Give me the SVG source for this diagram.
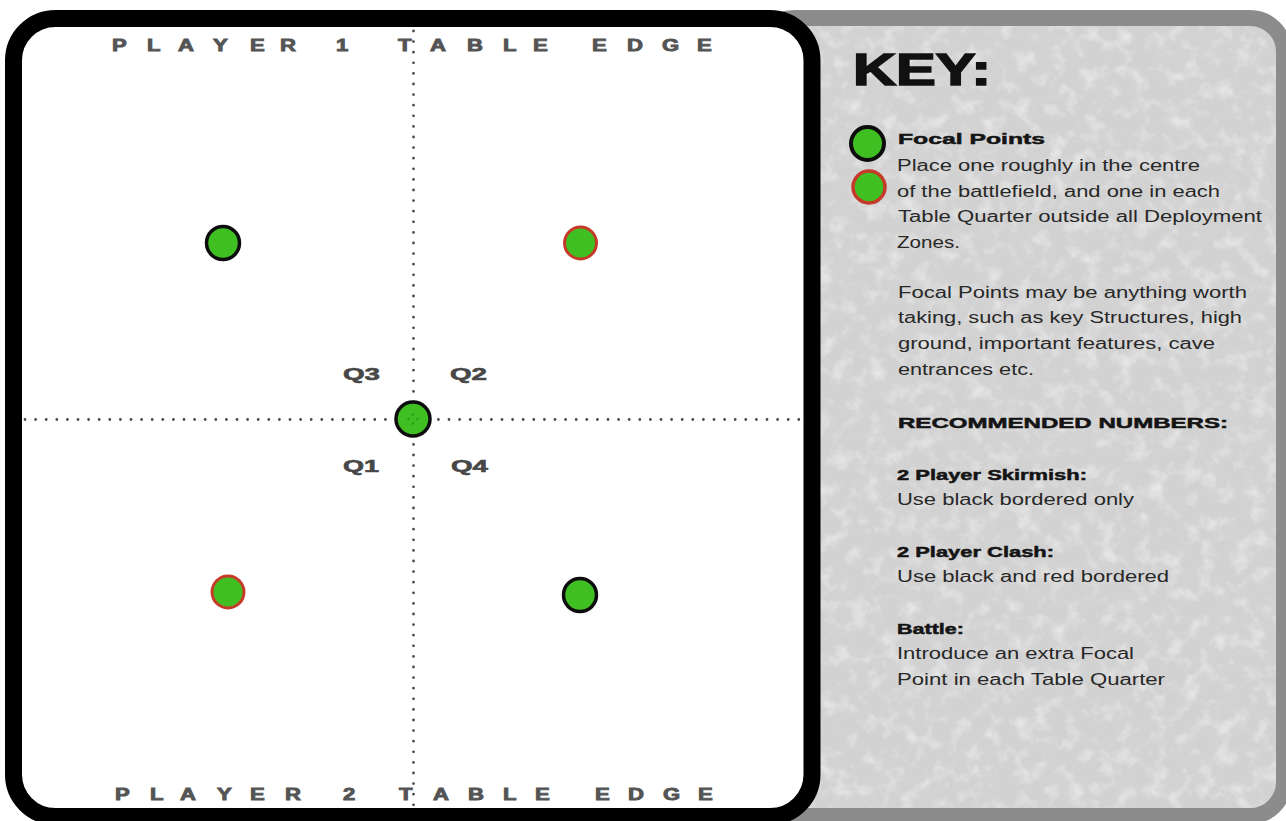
<svg xmlns="http://www.w3.org/2000/svg" width="1286" height="821" viewBox="0 0 1286 821">
  <defs>
    <filter id="speckle" x="0" y="0" width="100%" height="100%">
      <feTurbulence type="fractalNoise" baseFrequency="0.06" numOctaves="4" seed="7" result="n"/>
      <feColorMatrix in="n" type="matrix" values="0 0 0 0 1  0 0 0 0 1  0 0 0 0 1  2.6 0 0 0 -1.25"/>
      <feComposite in2="SourceGraphic" operator="in"/>
    </filter>
    <style>
      .edge { font-family: "Liberation Sans", Arial, sans-serif; font-weight: bold; font-size: 17px; fill: #545454; stroke: #545454; stroke-width: 0.9px; }
      .q { font-family: "Liberation Sans", Arial, sans-serif; font-weight: bold; font-size: 17px; fill: #474747; stroke: #474747; stroke-width: 0.6px; }
      .kt { font-family: "Liberation Sans", Arial, sans-serif; font-size: 16px; fill: #282828; }
      .kb { font-family: "Liberation Sans", Arial, sans-serif; font-weight: bold; font-size: 15.5px; fill: #141414; stroke: #141414; stroke-width: 0.5px; }
      .title { font-family: "Liberation Sans", Arial, sans-serif; font-weight: bold; font-size: 44px; fill: #111; stroke: #111; stroke-width: 1.6px; }
      .fp { fill: #3fbf22; }
      .blk { stroke: #0d0d0d; stroke-width: 3.5; }
      .red { stroke: #c63a2a; stroke-width: 3; }
      .dots { stroke: #4a4a4a; stroke-width: 2.8; stroke-linecap: round; stroke-dasharray: 0 10.6; fill: none; }
    </style>
  </defs>

  <rect x="0" y="0" width="1286" height="821" fill="#ffffff"/>

  <!-- Key panel -->
  <g id="key-panel">
    <rect x="760" y="18" width="524" height="798" rx="34" fill="#d2d2d2" stroke="#8c8c8c" stroke-width="16"/>
    <rect x="768" y="26" width="508" height="782" rx="26" fill="#ffffff" filter="url(#speckle)" opacity="0.45"/>
  </g>

  <!-- Board -->
  <g id="board">
    <rect x="13.5" y="18.5" width="798.5" height="798" rx="42" fill="#ffffff" stroke="#000000" stroke-width="17"/>
  </g>

  <!-- Connectors: dotted quarter lines -->
  <g id="connectors">
    <line class="dots" x1="413.5" y1="31" x2="413.5" y2="806"/>
    <line class="dots" x1="25" y1="419.5" x2="800" y2="419.5"/>
  </g>

  <!-- Table edge labels -->
  <g id="label-player1">
    <text class="edge" transform="scale(1.3 1)" y="51" x="86.2 113.1 136.9 163.8 192.3 215.4 258.5 306.2 330.8 359.2 386.9 410 455.4 482.3 509.2 536.2">PLAYER1TABLEEDGE</text>
  </g>
  <g id="label-player2">
    <text class="edge" transform="scale(1.3 1)" y="800" x="88.5 115.4 138.5 166.9 192.3 219.2 263.8 306.9 333.1 360 386.9 411.5 457.7 483.1 510 536.9">PLAYER2TABLEEDGE</text>
  </g>

  <!-- Quarter labels -->
  <g id="quarters">
    <text class="q" x="343" y="380" textLength="37" lengthAdjust="spacingAndGlyphs">Q3</text>
    <text class="q" x="450" y="380" textLength="37" lengthAdjust="spacingAndGlyphs">Q2</text>
    <text class="q" x="343" y="472" textLength="36" lengthAdjust="spacingAndGlyphs">Q1</text>
    <text class="q" x="451" y="472" textLength="37" lengthAdjust="spacingAndGlyphs">Q4</text>
  </g>

  <!-- Focal points -->
  <g id="fp-q3"><circle class="fp blk" cx="223" cy="243" r="16.5"/></g>
  <g id="fp-q2"><circle class="fp red" cx="580.5" cy="243" r="16"/></g>
  <g id="fp-q1"><circle class="fp red" cx="228" cy="592" r="16"/></g>
  <g id="fp-q4"><circle class="fp blk" cx="580" cy="595" r="16.5"/></g>
  <g id="fp-centre">
    <circle class="fp blk" cx="413" cy="419" r="17"/>
    <g fill="#2f9a1b">
      <circle cx="413" cy="414.5" r="1.3"/>
      <circle cx="413" cy="423.5" r="1.3"/>
      <circle cx="408.5" cy="419" r="1.3"/>
      <circle cx="417.5" cy="419" r="1.3"/>
    </g>
  </g>

  <!-- Key -->
  <g id="key-title">
    <text class="title" x="853" y="85" textLength="138" lengthAdjust="spacingAndGlyphs">KEY:</text>
  </g>
  <g id="key-black"><circle class="fp" cx="867.5" cy="143.5" r="16.5" stroke="#0d0d0d" stroke-width="4"/></g>
  <g id="key-red"><circle class="fp" cx="869" cy="187" r="16" stroke="#c63a2a" stroke-width="3.5"/></g>

  <g id="key-text">
    <text class="kb" x="898" y="144" textLength="147" lengthAdjust="spacingAndGlyphs">Focal Points</text>
    <text class="kt" x="897" y="170.5" textLength="303" lengthAdjust="spacingAndGlyphs">Place one roughly in the centre</text>
    <text class="kt" x="897" y="196.5" textLength="323" lengthAdjust="spacingAndGlyphs">of the battlefield, and one in each</text>
    <text class="kt" x="898" y="222" textLength="364" lengthAdjust="spacingAndGlyphs">Table Quarter outside all Deployment</text>
    <text class="kt" x="897" y="248" textLength="63" lengthAdjust="spacingAndGlyphs">Zones.</text>

    <text class="kt" x="898" y="297.5" textLength="349" lengthAdjust="spacingAndGlyphs">Focal Points may be anything worth</text>
    <text class="kt" x="898" y="323" textLength="344" lengthAdjust="spacingAndGlyphs">taking, such as key Structures, high</text>
    <text class="kt" x="898" y="349" textLength="317" lengthAdjust="spacingAndGlyphs">ground, important features, cave</text>
    <text class="kt" x="898" y="375" textLength="136" lengthAdjust="spacingAndGlyphs">entrances etc.</text>

    <text class="kb" x="898" y="428" textLength="330" lengthAdjust="spacingAndGlyphs">RECOMMENDED NUMBERS:</text>

    <text class="kb" x="897" y="480" textLength="190" lengthAdjust="spacingAndGlyphs">2 Player Skirmish:</text>
    <text class="kt" x="897" y="505" textLength="237" lengthAdjust="spacingAndGlyphs">Use black bordered only</text>

    <text class="kb" x="897" y="557" textLength="157" lengthAdjust="spacingAndGlyphs">2 Player Clash:</text>
    <text class="kt" x="897" y="582" textLength="272" lengthAdjust="spacingAndGlyphs">Use black and red bordered</text>

    <text class="kb" x="897" y="634" textLength="67" lengthAdjust="spacingAndGlyphs">Battle:</text>
    <text class="kt" x="897" y="659" textLength="237" lengthAdjust="spacingAndGlyphs">Introduce an extra Focal</text>
    <text class="kt" x="897" y="684.5" textLength="268" lengthAdjust="spacingAndGlyphs">Point in each Table Quarter</text>
  </g>
</svg>
